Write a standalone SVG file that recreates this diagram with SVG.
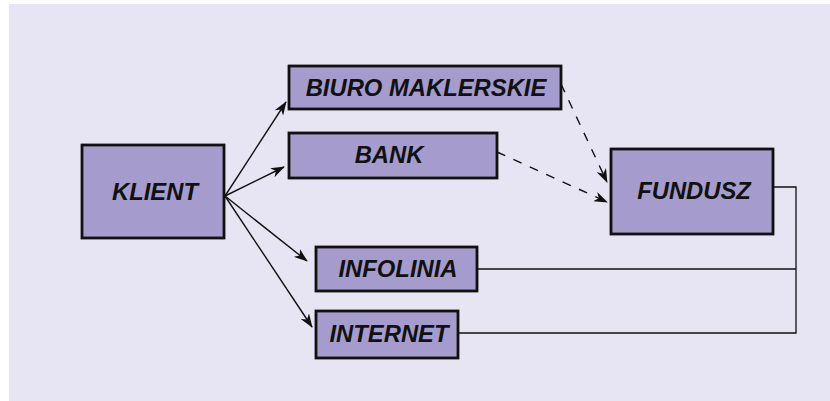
<svg xmlns="http://www.w3.org/2000/svg" width="830" height="401" viewBox="0 0 830 401">
  <style>
    .box { fill: #a59bcc; stroke: #111; stroke-width: 2.8; }
    .lbl { font-family: "Liberation Sans", Arial, sans-serif; font-weight: bold; font-style: italic; font-size: 23.8px; fill: #111; text-anchor: middle; }
    .link { fill: none; stroke: #111; stroke-width: 1.4; }
    .dash { stroke-dasharray: 9 9; }
    .wire { fill: none; stroke: #111; stroke-width: 1.3; }
  </style>
  <defs>
    <marker id="head" viewBox="0 0 14 10" refX="13" refY="5" markerWidth="14" markerHeight="10" markerUnits="userSpaceOnUse" orient="auto">
      <path d="M0,0 L14,5 L0,10 L4,5 z" fill="#111"/>
    </marker>
  </defs>

  <rect x="0" y="0" width="830" height="401" fill="#ffffff"/>
  <rect x="9" y="4" width="821" height="397" fill="#e7e5f3"/>

  <g id="connectors">
    <line class="link" x1="225" y1="196" x2="286" y2="102" marker-end="url(#head)"/>
    <line class="link" x1="225" y1="196" x2="284" y2="167" marker-end="url(#head)"/>
    <line class="link" x1="225" y1="196" x2="307" y2="261" marker-end="url(#head)"/>
    <line class="link" x1="225" y1="196" x2="312" y2="327" marker-end="url(#head)"/>
    <line class="link dash" x1="561" y1="84" x2="607" y2="182" marker-end="url(#head)"/>
    <line class="link dash" x1="497" y1="152" x2="607" y2="202" marker-end="url(#head)"/>
    <polyline class="wire" points="773,187 796,187 796,333 458,333"/>
    <line class="wire" x1="477" y1="269" x2="796" y2="269"/>
  </g>

  <g id="klient">
    <rect class="box" x="82" y="145" width="142" height="93"/>
    <text class="lbl" x="155" y="200">KLIENT</text>
  </g>
  <g id="biuro">
    <rect class="box" x="289" y="66" width="272" height="43"/>
    <text class="lbl" x="426" y="96">BIURO MAKLERSKIE</text>
  </g>
  <g id="bank">
    <rect class="box" x="289" y="133" width="208" height="45"/>
    <text class="lbl" x="389" y="163">BANK</text>
  </g>
  <g id="infolinia">
    <rect class="box" x="316" y="247" width="161" height="44"/>
    <text class="lbl" x="398" y="277">INFOLINIA</text>
  </g>
  <g id="internet">
    <rect class="box" x="316" y="311" width="142" height="47"/>
    <text class="lbl" x="389" y="342">INTERNET</text>
  </g>
  <g id="fundusz">
    <rect class="box" x="611" y="149" width="162" height="85"/>
    <text class="lbl" x="694" y="199">FUNDUSZ</text>
  </g>
</svg>
